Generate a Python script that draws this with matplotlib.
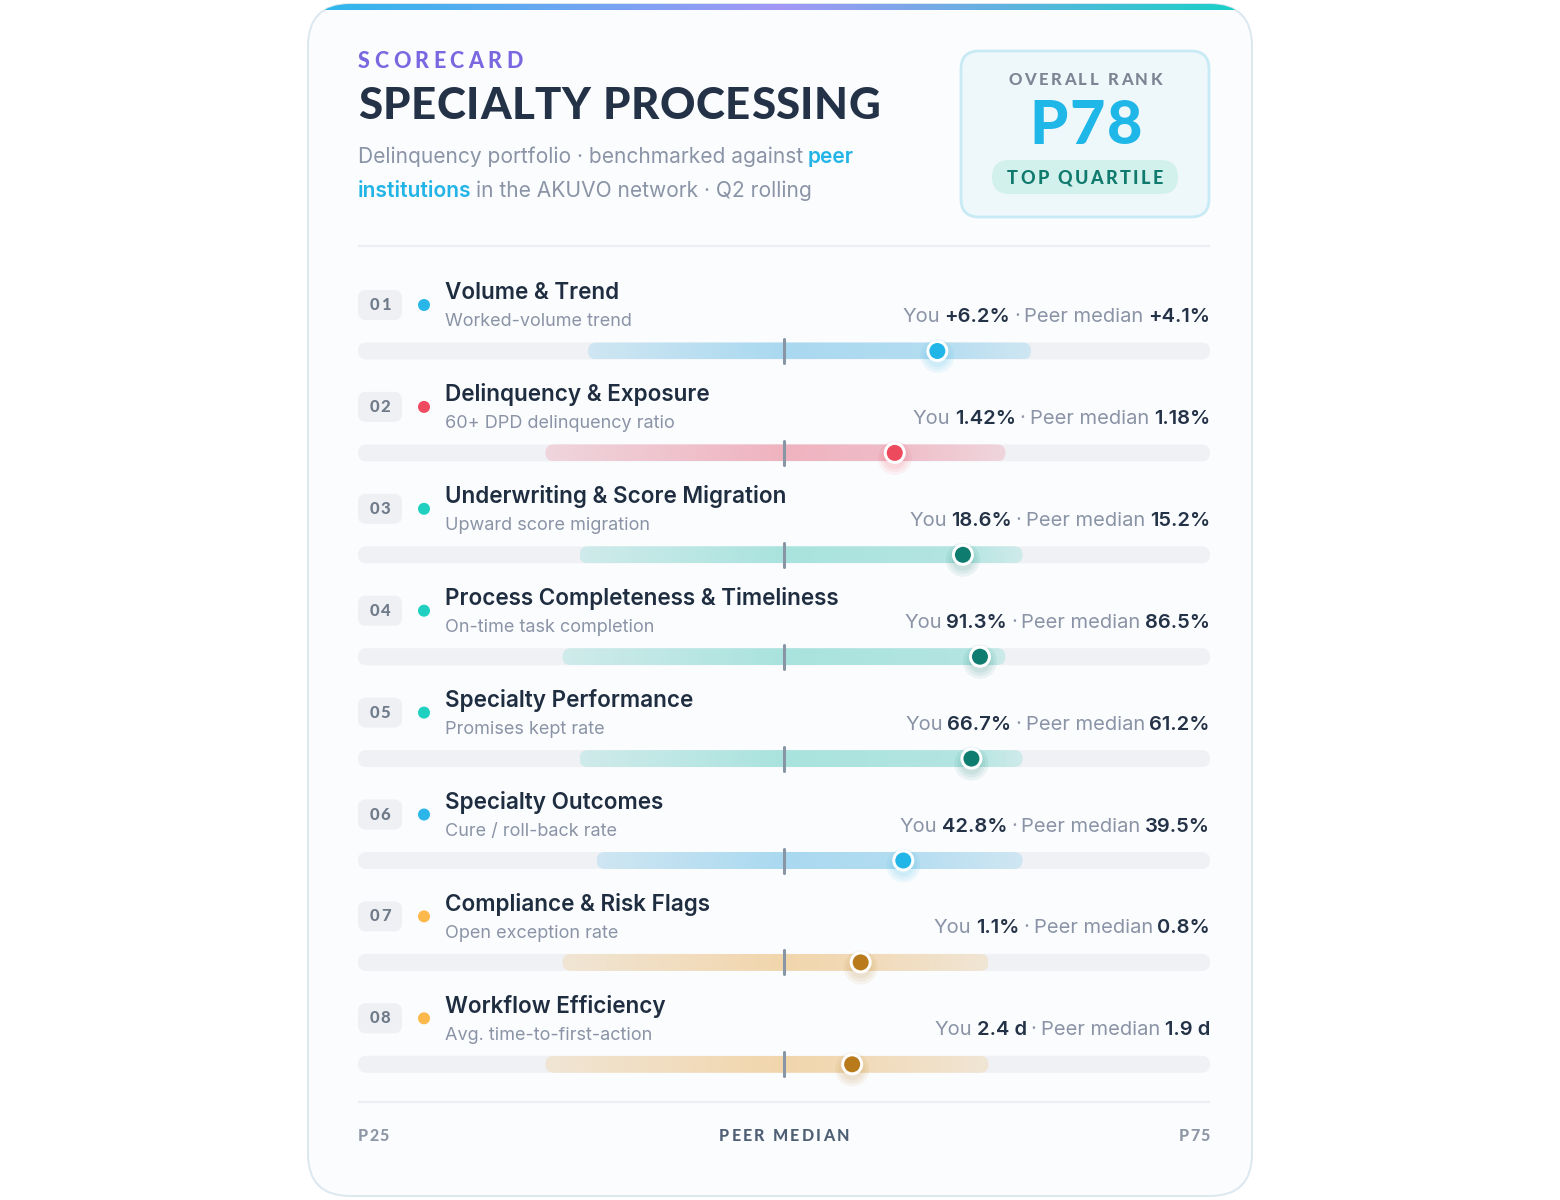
""" Scorecard: specialty processing, each metric against the peer band.
"""
import numpy as np
import matplotlib.pyplot as plt
from matplotlib.patches import FancyBboxPatch, Circle
from matplotlib.colors import to_rgb

### Dados

categories = ['Volume & Trend', 'Delinquency & Exposure', 'Underwriting & Score Migration',
              'Process Completeness & Timeliness', 'Specialty Performance', 'Specialty Outcomes',
              'Compliance & Risk Flags', 'Workflow Efficiency']
metrics = ['Worked-volume trend', '60+ DPD delinquency ratio', 'Upward score migration',
           'On-time task completion', 'Promises kept rate', 'Cure / roll-back rate',
           'Open exception rate', 'Avg. time-to-first-action']
you_vals = ['+6.2%', '1.42%', '18.6%', '91.3%', '66.7%', '42.8%', '1.1%', '2.4 d']
peer_vals = ['+4.1%', '1.18%', '15.2%', '86.5%', '61.2%', '39.5%', '0.8%', '1.9 d']
tones = ['blue', 'red', 'teal', 'teal', 'teal', 'blue', 'amber', 'amber']
# posição na régua (0 = P25 ... 50 = mediana ... 100 = P75)
band_lo = [27, 22, 26, 24, 26, 28, 24, 22]
band_hi = [79, 76, 78, 76, 78, 78, 74, 74]
you_pos = [68, 63, 71, 73, 72, 64, 59, 58]
median_pos = 50
overall_rank = 'P78'
rank_label = 'TOP QUARTILE'
scale_labels = ['P25', 'PEER MEDIAN', 'P75']

### Parâmetros

W, H = 1560, 1200
X0, X1 = 358, 1210
ROW_Y0, ROW_STEP = 292, 101.9

TONE_DOT = {'blue': '#2ab6e8', 'red': '#ef4a5f', 'teal': '#1fd0c0', 'amber': '#fbb94b'}
TONE_MARK = {'blue': '#22b5e8', 'red': '#ee4a5e', 'teal': '#0f7c70', 'amber': '#b87a1a'}
TONE_BAND = {'blue': '#a9d9f0', 'red': '#efb3bf', 'teal': '#a9e3de', 'amber': '#f2d6ac'}

GRAY = '#8a94a6'
DARK = '#243247'
BODY = 'Inter'
GEO = 'Lato'
KERN = -1.2   # ajuste (px) do espaço entre segmentos

fig = plt.figure(figsize=(W / 100, H / 100), dpi=100)
fig.patch.set_facecolor('white')
ax = fig.add_axes([0, 0, 1, 1])
ax.set_xlim(0, W)
ax.set_ylim(H, 0)
ax.axis('off')
renderer = fig.canvas.get_renderer()


def width_of(t):
    return t.get_window_extent(renderer).width


def advance(s, kw, space):
    # avanço do texto (e de um espaço) medido com um 'n' de referência
    tail = ' n' if space else 'n'
    a = ax.text(0, 0, s + tail, **kw)
    b = ax.text(0, 0, 'n', **kw)
    w = width_of(a) - width_of(b)
    a.remove()
    b.remove()
    return w


def segments(x, y, parts, ha='left'):
    # parts: (texto, estilo); um espaço entre segmentos
    arts, steps = [], []
    for k, (s, kw) in enumerate(parts):
        arts.append(ax.text(0, y, s, ha='left', va='center', **kw))
        last = k == len(parts) - 1
        steps.append(width_of(arts[-1]) if last else advance(s, kw, True) + KERN)
    total = sum(steps)
    cur = x - total if ha == 'right' else x
    for a, st in zip(arts, steps):
        a.set_x(cur)
        cur += st


def spaced(x, y, s, track, ha='left', **kw):
    arts = [ax.text(0, y, c, ha='left', va='center', **kw) for c in s]
    sp = advance('', kw, True)
    ws = [sp if c == ' ' else width_of(a) for a, c in zip(arts, s)]
    total = sum(ws) + track * (len(s) - 1)
    cur = {'left': x, 'center': x - total / 2, 'right': x - total}[ha]
    for a, w in zip(arts, ws):
        a.set_x(cur)
        cur += w + track


### Cartão

card = FancyBboxPatch((308, 4), 944, 1192, boxstyle='round,pad=0,rounding_size=42',
                      fc='#fbfcfe', ec='#dbe8ef', lw=1.4, zorder=0)
ax.add_patch(card)
top = np.array([to_rgb(c) for c in ['#2bb8ec', '#a397f6', '#15d2c6']])
t = np.linspace(0, 1, 400)
grad = np.stack([np.interp(t, [0, 0.5, 1], top[:, k]) for k in range(3)], axis=-1)[None]
im = ax.imshow(grad, extent=(308, 1252, 10, 3), aspect='auto', zorder=1)
im.set_clip_path(card)
ax.set_xlim(0, W)
ax.set_ylim(H, 0)

### Cabeçalho

spaced(358, 61, 'SCORECARD', 4.4, fontsize=15.5, fontweight='black', family=GEO, color='#7b68e0')
spaced(358, 106, 'SPECIALTY PROCESSING', 0.6, fontsize=31.5, fontweight='black', family=GEO, color=DARK)
sub = dict(fontsize=15.1, family=BODY, color=GRAY)
link = dict(fontsize=15.1, family=BODY, color='#22b4e6', fontweight='semibold')
segments(358, 157, [('Delinquency portfolio · benchmarked against', sub), ('peer', link)])
segments(358, 191, [('institutions', link), ('in the AKUVO network · Q2 rolling', sub)])

box = FancyBboxPatch((961, 51), 248, 166, boxstyle='round,pad=0,rounding_size=18',
                     fc='#eef8fb', ec='#c8eaf4', lw=2, zorder=2)
ax.add_patch(box)
spaced(1085, 80, 'OVERALL RANK', 2.6, ha='center', fontsize=12, fontweight='black', family=GEO, color='#7c8593', zorder=3)
spaced(1086, 126, overall_rank, 2.0, ha='center', fontsize=44, fontweight='black', family=GEO, color='#1fb6e8', zorder=3)
ax.add_patch(FancyBboxPatch((992, 160), 186, 34, boxstyle='round,pad=0,rounding_size=17',
                            fc='#d3f1ec', ec='none', zorder=3))
spaced(1085, 178, rank_label, 2.4, ha='center', fontsize=13, fontweight='black', family=GEO, color='#0f7a6d', zorder=4)

ax.plot([X0, X1], [246, 246], color='#eceef4', lw=1.6, solid_capstyle='butt')

### Linhas

u = 100 / (X1 - X0)          # unidades por pixel na régua
r = 8.5 * u
for i, cat in enumerate(categories):
    yc = ROW_Y0 + ROW_STEP * i
    tone = tones[i]

    ax.add_patch(FancyBboxPatch((358, yc - 2), 44, 30, boxstyle='round,pad=0,rounding_size=8',
                                fc='#eef0f4', ec='none'))
    spaced(380, yc + 13, '%02d' % (i + 1), 1.5, ha='center', fontsize=12, fontweight='black',
           family=GEO, color='#707b8a')
    ax.add_patch(Circle((424, yc + 13), 6, fc=TONE_DOT[tone], ec='none'))

    ax.text(445, yc + 1, cat, ha='left', va='center', fontsize=16.2, fontweight='semibold', family=BODY, color='#1f2d40')
    ax.text(445, yc + 30, metrics[i], ha='left', va='center', fontsize=13, family=BODY, color=GRAY)
    val = dict(fontsize=14.5, family=BODY, color=DARK, fontweight='semibold')
    txt = dict(fontsize=14.5, family=BODY, color=GRAY)
    segments(X1, yc + 25, [('You', txt), (you_vals[i], val), ('·', txt),
                           ('Peer median', txt), (peer_vals[i], val)], ha='right')

    # régua da linha, em escala própria 0..100
    ty = yc + 59
    rax = fig.add_axes([X0 / W, 1 - (ty + 25) / H, (X1 - X0) / W, 50 / H])
    rax.axis('off')
    rax.add_patch(FancyBboxPatch((0, -r), 100, 2 * r, boxstyle=f'round,pad=0,rounding_size={r}',
                                 fc='#eff1f5', ec='none', zorder=1))
    lo, hi = band_lo[i], band_hi[i]
    clip = FancyBboxPatch((lo, -r), hi - lo, 2 * r, boxstyle=f'round,pad=0,rounding_size={r}',
                          fc='none', ec='none')
    rax.add_patch(clip)
    xs = np.linspace(lo, hi, 300)
    alpha = np.interp(xs, [lo, median_pos, you_pos[i], hi], [0.45, 1.0, 0.85, 0.45])
    rgba = np.zeros((1, 300, 4))
    rgba[..., :3] = to_rgb(TONE_BAND[tone])
    rgba[..., 3] = alpha
    bim = rax.imshow(rgba, extent=(lo, hi, -r, r), aspect='auto', interpolation='bilinear', zorder=2)
    bim.set_clip_path(clip)
    rax.plot([median_pos, median_pos], [-12 * u, 12 * u], color='#8795a5', lw=2.2,
             solid_capstyle='round', zorder=3)

    p = you_pos[i]
    for rad in [17, 14, 11]:
        rax.add_patch(Circle((p, -5 * u), rad * u, fc=TONE_MARK[tone], ec='none', alpha=0.07,
                             clip_on=False, zorder=4))
    rax.add_patch(Circle((p, 0), 11 * u, fc='white', ec='none', zorder=5))
    rax.add_patch(Circle((p, 0), 8 * u, fc=TONE_MARK[tone], ec='none', zorder=6))
    rax.set_xlim(0, 100)
    rax.set_ylim(-25 * u, 25 * u)

### Rodapé

ax.plot([X0, X1], [1102, 1102], color='#eceef4', lw=1.6, solid_capstyle='butt')
foot = dict(fontsize=11.5, fontweight='black', family=GEO)
spaced(X0, 1136, scale_labels[0], 1.2, ha='left', color='#8d97a6', **foot)
spaced((X0 + X1) / 2, 1136, scale_labels[1], 2.2, ha='center', color='#4f6075', **foot)
spaced(X1, 1136, scale_labels[2], 1.2, ha='right', color='#8d97a6', **foot)

fig.savefig('out.png', dpi=100, facecolor='white')
